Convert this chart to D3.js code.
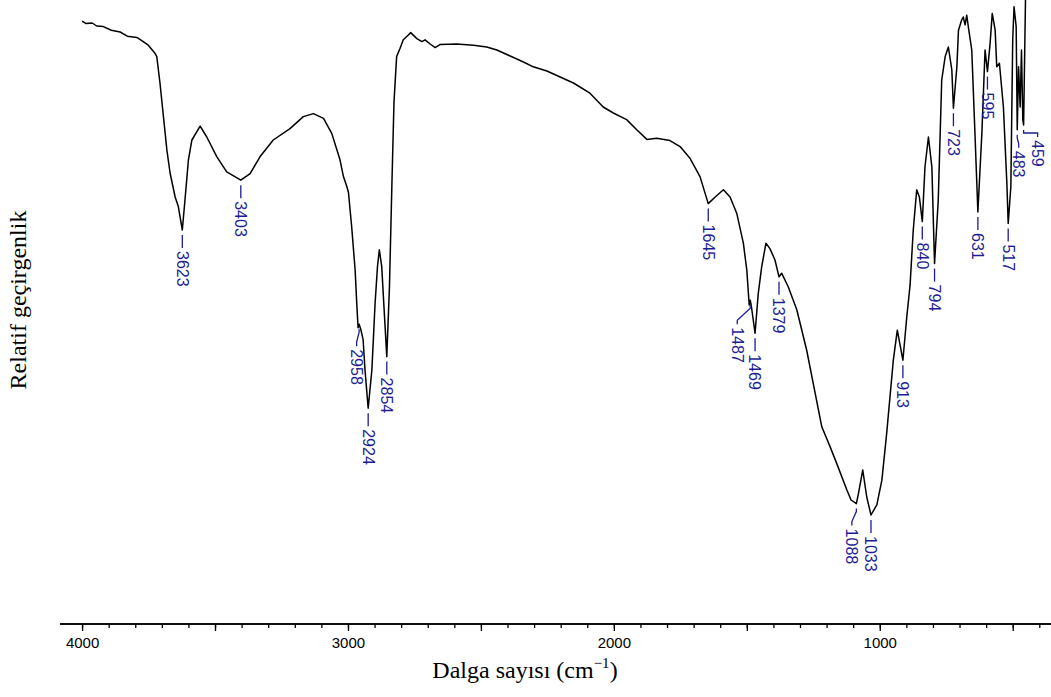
<!DOCTYPE html>
<html>
<head>
<meta charset="utf-8">
<script src="https://cdn.jsdelivr.net/npm/d3@7"></script>
<style>
    body { margin: 0; background: #fff; }
    svg { display: block; }
</style>
</head>
<body>
<div id="chart"></div>
<script>

// IR spectrum (wavenumber in cm-1, relative transmittance)
var wavenumbers = [
    4000, 3985, 3962, 3945, 3920, 3890, 3857, 3830, 3794, 3770, 3751, 3725, 3719, 3707, 3694,
    3681, 3669, 3650, 3638, 3623,
    3613, 3600, 3587, 3556, 3531, 3493, 3456, 3403, 3368, 3331, 3281, 3218, 3168, 3130, 3092,
    3061, 3030, 3017, 3004, 2998, 2986, 2973, 2967, 2962, 2958, 2951, 2943, 2936, 2924, 2910,
    2898, 2889, 2882, 2873, 2866, 2854, 2844, 2835, 2827, 2817, 2804, 2792, 2773, 2764, 2741,
    2722, 2710, 2691, 2672, 2654, 2591, 2528, 2478, 2440, 2390, 2340, 2303, 2252, 2202, 2152,
    2090, 2040, 2002, 1952, 1914, 1876, 1839, 1789, 1751, 1713, 1676, 1645, 1619, 1588, 1563,
    1538, 1513, 1500, 1491, 1487, 1482, 1469, 1457, 1444, 1428, 1413, 1394, 1379, 1369, 1344,
    1312, 1275, 1243, 1218, 1187, 1162, 1124, 1108, 1088, 1080, 1064, 1049, 1033, 1011, 992,
    974, 949, 934, 913, 898, 886, 874, 861, 851, 840, 830, 817, 804, 794, 780,
    767, 754, 742, 729, 723, 710, 704, 692, 686, 679, 673, 667, 654, 642, 631,
    616, 604, 595, 585, 577, 566, 560, 550, 535, 522, 517, 507, 500, 495, 487,
    483, 478, 472, 467, 462, 459, 452, 448
];

var transmittance = [
    99.8, 99.4, 99.5, 99.0, 98.9, 98.3, 98.0, 97.3, 97.1, 96.4, 95.8, 94.4, 93.9, 89.5, 83.9,
    78.3, 74.5, 70.5, 68.9, 65.0,
    70.0, 76.7, 80.0, 82.3, 80.5, 77.2, 74.7, 73.3, 74.4, 77.2, 80.0, 81.9, 83.9, 84.4, 83.6,
    81.1, 76.7, 73.9, 72.2, 71.2, 65.5, 58.3, 52.8, 48.7, 49.3, 48.3, 46.7, 41.7, 35.3, 41.7,
    52.8, 58.9, 61.7, 58.9, 53.3, 43.9, 55.5, 72.2, 86.2, 93.9, 95.3, 96.7, 97.5, 97.9, 96.9,
    96.4, 96.7, 96.0, 95.4, 95.9, 96.0, 95.8, 95.5, 95.0, 94.0, 93.0, 92.2, 91.5, 90.5, 89.5,
    87.8, 85.5, 84.5, 83.4, 81.7, 80.1, 80.3, 79.9, 78.9, 76.9, 73.9, 69.4, 70.5, 71.7, 70.5,
    67.8, 62.8, 58.3, 52.5, 53.3, 52.0, 47.8, 54.4, 58.9, 62.8, 61.9, 60.0, 57.2, 57.8, 55.5,
    51.7, 45.0, 37.8, 32.2, 28.9, 26.1, 21.7, 20.0, 19.4, 21.1, 25.0, 20.5, 17.5, 19.2, 23.3,
    31.1, 43.3, 48.3, 43.3, 50.7, 55.8, 65.0, 71.7, 70.5, 66.4, 75.5, 80.5, 75.5, 59.4, 70.0,
    90.0, 93.9, 95.5, 91.7, 85.3, 92.2, 98.3, 100.0, 100.5, 99.2, 100.8, 98.9, 95.0, 81.1, 68.0,
    81.1, 95.0, 91.4, 96.1, 101.1, 98.3, 92.2, 92.8, 85.5, 72.8, 66.1, 72.2, 96.7, 102.2, 98.9,
    81.7, 92.2, 85.5, 95.0, 83.3, 82.5, 103.3, 108.0
];

// Peak annotations
var peakLabels = [3623, 3403, 2958, 2924, 2854, 1645, 1487, 1469, 1379, 1088,
                  1033, 913, 840, 794, 723, 631, 595, 517, 483, 459];

var xTitle = 'Dalga sayısı (cm',
    yTitle = 'Relatif geçirgenlik';

var width = 1051,
    height = 697,
    axisY = 624,
    labelColor = '#1c1c94';

// Labels that sit off their peak: [dx, dy] in px
var nudge = {
    2958: [ -2.5, 4 ],
    1487: [ -13, 6 ],
    1088: [ -4.5, 4 ],
    483:  [ 1.5, 0 ],
    459:  [ 14, -6 ]
};

var data = wavenumbers.map( function ( w, i ) { return [ w, transmittance[i] ]; } );

var xScale = d3.scaleLinear().domain( [ 4083, 356 ] ).range( [ 60, width ] ),
    yScale = d3.scaleLinear().domain( [ 0, 100 ] ).range( [ 620, 20 ] );

var svg = d3.select( '#chart' ).append( 'svg' )
    .attr( 'width', width )
    .attr( 'height', height );

// Spectrum
svg.append( 'path' )
    .datum( data )
    .attr( 'fill', 'none' )
    .attr( 'stroke', '#000' )
    .attr( 'stroke-width', 1.5 )
    .attr( 'stroke-linejoin', 'round' )
    .attr( 'd', d3.line()
        .x( function ( d ) { return xScale( d[0] ); } )
        .y( function ( d ) { return yScale( d[1] ); } ) );

// Look up the curve at a given wavenumber
function valueAt( w ) {
    for ( var i = 1; i < data.length; i++ ) {
        if ( data[i][0] <= w ) {
            var a = data[i - 1], b = data[i];
            var t = ( a[0] - w ) / ( a[0] - b[0] );
            return a[1] + t * ( b[1] - a[1] );
        }
    }
    return data[data.length - 1][1];
}

// Peak labels with short leaders
var peaks = svg.append( 'g' ).attr( 'class', 'peaks' );

peakLabels.forEach( function ( p ) {
    var px = xScale( p ),
        py = yScale( valueAt( p ) ),
        n = nudge[p] || [ 0, 0 ],
        lx = px + n[0],
        top = py + 5,
        bottom = py + 18 + n[1];

    var pts = n[0] === 0 ? [ [ px, top ], [ px, bottom ] ]
        : [ [ px, top ], [ px, top + 3 ], [ lx, bottom - 4 ], [ lx, bottom ] ];

    peaks.append( 'path' )
        .attr( 'd', d3.line()( pts ) )
        .attr( 'fill', 'none' )
        .attr( 'stroke', labelColor )
        .attr( 'stroke-width', 1.3 );

    peaks.append( 'text' )
        .attr( 'transform', 'translate(' + lx + ',' + ( bottom + 3 ) + ') rotate(90)' )
        .attr( 'dy', '0.35em' )
        .style( 'font', '16px "Liberation Sans", Arial, sans-serif' )
        .attr( 'fill', labelColor )
        .text( p );
});

// X axis: minor ticks every 100, major every 500, labels every 1000
var minorAxis = d3.axisBottom( xScale )
    .tickValues( d3.range( 400, 4001, 100 ) )
    .tickSize( 4 )
    .tickFormat( '' );

var majorAxis = d3.axisBottom( xScale )
    .tickValues( d3.range( 500, 4001, 500 ) )
    .tickSize( 7 )
    .tickPadding( 6 )
    .tickFormat( function ( d ) { return d % 1000 === 0 ? d : ''; } );

var gx = svg.append( 'g' ).attr( 'transform', 'translate(0,' + axisY + ')' );
gx.append( 'g' ).call( minorAxis );
gx.append( 'g' ).call( majorAxis );

gx.selectAll( '.domain' )
    .attr( 'd', 'M' + xScale.range()[0] + ',0H' + xScale.range()[1] )
    .attr( 'stroke-width', 1.6 );
gx.selectAll( '.tick line' ).attr( 'stroke-width', 1.3 );
gx.selectAll( 'text' )
    .style( 'font', '15px "Liberation Sans", Arial, sans-serif' )
    .attr( 'fill', '#000' );

// Axis titles
var xt = svg.append( 'text' )
    .attr( 'x', 525 )
    .attr( 'y', 678 )
    .attr( 'text-anchor', 'middle' )
    .style( 'font', '24px "Liberation Serif", "Times New Roman", serif' );
xt.append( 'tspan' ).text( xTitle );
xt.append( 'tspan' ).attr( 'dy', -10 ).style( 'font-size', '15px' ).text( '\u22121' );
xt.append( 'tspan' ).attr( 'dy', 10 ).text( ')' );

svg.append( 'text' )
    .attr( 'transform', 'translate(26,300) rotate(-90)' )
    .attr( 'text-anchor', 'middle' )
    .style( 'font', '24px "Liberation Serif", "Times New Roman", serif' )
    .text( yTitle );

</script>
</body>
</html>
